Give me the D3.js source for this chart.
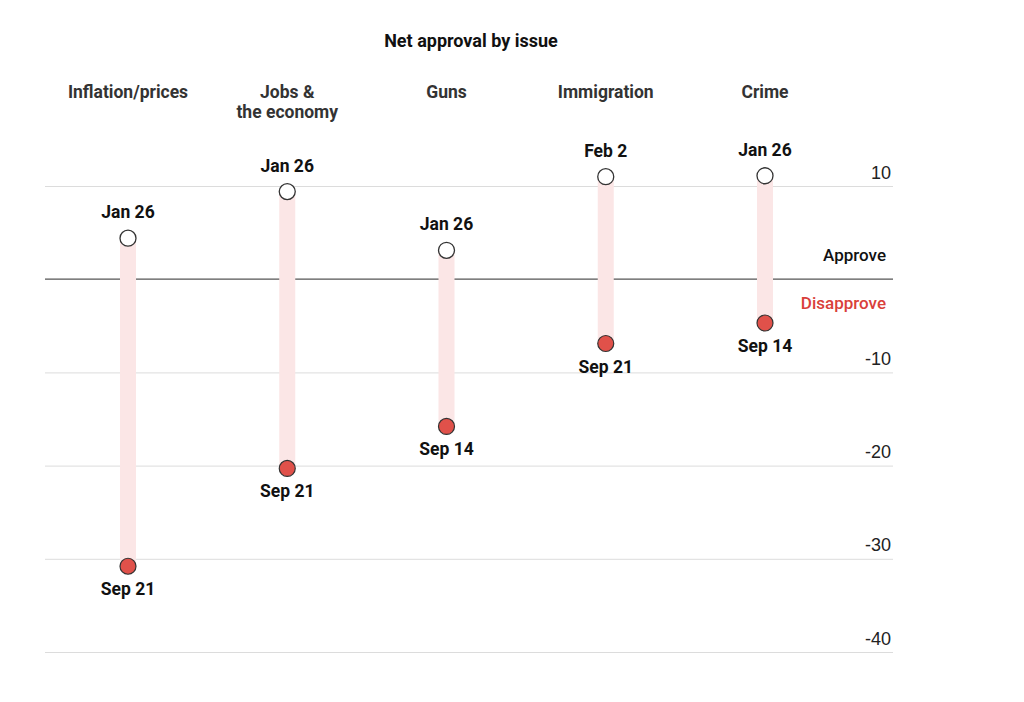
<!DOCTYPE html>
<html><head><meta charset="utf-8">
<script src="https://cdn.jsdelivr.net/npm/d3@7"></script>
<style>body{margin:0;background:#fff;} svg{display:block;}</style>
</head><body>
<svg id="chart" width="1024" height="702"></svg>
<script>
const issues = ["Inflation/prices", "Jobs &\nthe economy", "Guns", "Immigration", "Crime"];
const startLabels = ["Jan 26", "Jan 26", "Jan 26", "Feb 2", "Jan 26"];
const startValues = [4.4, 9.4, 3.1, 11.0, 11.1];
const endLabels = ["Sep 21", "Sep 21", "Sep 14", "Sep 21", "Sep 14"];
const endValues = [-30.8, -20.3, -15.8, -6.9, -4.7];
const gridTicks = [10, -10, -20, -30, -40];

const svg = d3.select("#chart");
const font = "Roboto, 'Liberation Sans', sans-serif";
const left = 45, right = 893;

const x = d3.scalePoint().domain(issues).range([128, 765]);
const y = d3.scaleLinear().domain([-40, 10]).range([652, 186]);

// title
svg.append("text").attr("x", 471).attr("y", 47).attr("text-anchor", "middle")
  .attr("font-family", font).attr("font-weight", 700).attr("font-size", 18)
  .attr("fill", "#111").text("Net approval by issue");

// gridlines
const axis = d3.axisRight(y).tickValues(gridTicks).tickSize(right - left).tickFormat(d => d);
const ga = svg.append("g").attr("transform", `translate(${left},0)`).call(axis);
ga.select(".domain").remove();
ga.selectAll(".tick line").attr("stroke", "#dcdcdc").attr("stroke-width", 1);
ga.selectAll(".tick text").attr("x", right - left - 2).attr("dy", -8)
  .attr("text-anchor", "end").attr("font-family", "'Liberation Sans', Arial, sans-serif")
  .attr("font-size", 18).attr("fill", "#222");

// zero line
svg.append("line").attr("x1", left).attr("x2", right).attr("y1", y(0)).attr("y2", y(0))
  .attr("stroke", "#555").attr("stroke-width", 1.3);
svg.append("text").attr("x", 886).attr("y", y(0) - 18).attr("text-anchor", "end")
  .attr("font-family", font).attr("font-weight", 500).attr("font-size", 17).attr("fill", "#111").text("Approve");
svg.append("text").attr("x", 886).attr("y", y(0) + 30).attr("text-anchor", "end")
  .attr("font-family", font).attr("font-weight", 500).attr("font-size", 17).attr("fill", "#d9403a").text("Disapprove");

// headers
const hdr = svg.append("g");
issues.forEach(name => {
  const t = hdr.append("text").attr("x", x(name)).attr("y", 98).attr("text-anchor", "middle")
    .attr("font-family", font).attr("font-weight", 700).attr("font-size", 17.5).attr("fill", "#333");
  name.split("\n").forEach((line, i) => {
    t.append("tspan").attr("x", x(name)).attr("dy", i === 0 ? 0 : 20).text(line);
  });
});

const data = issues.map((d, i) => ({issue: d, s: startValues[i], e: endValues[i], sl: startLabels[i], el: endLabels[i]}));

// bars
svg.append("g").selectAll("rect").data(data).join("rect")
  .attr("x", d => x(d.issue) - 8).attr("width", 16)
  .attr("y", d => y(d.s)).attr("height", d => y(d.e) - y(d.s))
  .attr("fill", "#fbe6e6");

// start circles
svg.append("g").selectAll("circle").data(data).join("circle")
  .attr("cx", d => x(d.issue)).attr("cy", d => y(d.s)).attr("r", 8)
  .attr("fill", "#fff").attr("stroke", "#333").attr("stroke-width", 1.3);
// end circles
svg.append("g").selectAll("circle").data(data).join("circle")
  .attr("cx", d => x(d.issue)).attr("cy", d => y(d.e)).attr("r", 8)
  .attr("fill", "#e0514a").attr("stroke", "#333").attr("stroke-width", 1.2);

// labels
svg.append("g").selectAll("text").data(data).join("text")
  .attr("x", d => x(d.issue)).attr("y", d => y(d.s) - 20).attr("text-anchor", "middle")
  .attr("font-family", font).attr("font-weight", 700).attr("font-size", 17.5).attr("fill", "#111")
  .text(d => d.sl);
svg.append("g").selectAll("text").data(data).join("text")
  .attr("x", d => x(d.issue)).attr("y", d => y(d.e) + 29).attr("text-anchor", "middle")
  .attr("font-family", font).attr("font-weight", 700).attr("font-size", 17.5).attr("fill", "#111")
  .text(d => d.el);
</script>
</body></html>
